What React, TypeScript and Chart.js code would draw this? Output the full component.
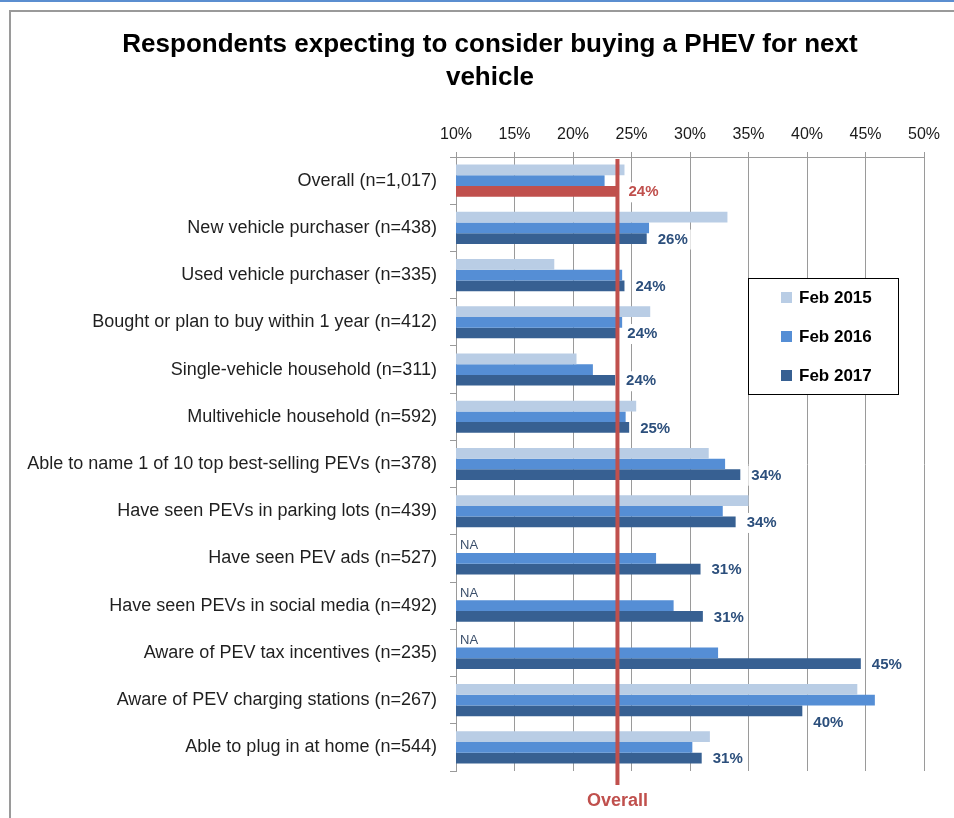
import React, { useEffect, useRef } from "react";
import { Chart, registerables } from "chart.js";

Chart.register(...registerables);

const titleLines = ["Respondents expecting to consider buying a PHEV for next", "vehicle"];

const categories = [
  "Overall (n=1,017)",
  "New vehicle purchaser (n=438)",
  "Used vehicle purchaser (n=335)",
  "Bought or plan to buy within 1 year (n=412)",
  "Single-vehicle household (n=311)",
  "Multivehicle household (n=592)",
  "Able to name 1 of 10 top best-selling PEVs (n=378)",
  "Have seen PEVs in parking lots (n=439)",
  "Have seen PEV ads (n=527)",
  "Have seen PEVs in social media (n=492)",
  "Aware of PEV tax incentives (n=235)",
  "Aware of PEV charging stations (n=267)",
  "Able to plug in at home (n=544)",
];

const seriesNames = ["Feb 2015", "Feb 2016", "Feb 2017"];

const feb2015: (number | null)[] = [24.4, 33.2, 18.4, 26.6, 20.3, 25.4, 31.6, 35.0, null, null, null, 44.3, 31.7];
const feb2016: number[] = [22.7, 26.5, 24.2, 24.2, 21.7, 24.5, 33.0, 32.8, 27.1, 28.6, 32.4, 45.8, 30.2];
const feb2017: number[] = [23.8, 26.3, 24.4, 23.7, 23.6, 24.8, 34.3, 33.9, 30.9, 31.1, 44.6, 39.6, 31.0];

const xMin = 10;
const xMax = 50;
const xStep = 5;

const overallLabel = "Overall";
const overallValue = feb2017[0];
const naText = "NA";

const FONT = '"Liberation Sans", Arial, sans-serif';
const C2015 = "#b9cde5";
const C2016 = "#558ed5";
const C2017 = "#376092";
const RED = "#c0504d";
const LABEL_BLUE = "#2c4f7c";
const GRID = "#9a9a9a";
const LABEL_FONT = `bold 15px ${FONT}`;

function labelBoxes(chart: any) {
  const ctx = chart.ctx as CanvasRenderingContext2D;
  const meta1 = chart.getDatasetMeta(1);
  const meta2 = chart.getDatasetMeta(2);
  ctx.save();
  ctx.font = LABEL_FONT;
  const out: { x: number; y: number; w: number; txt: string; i: number }[] = [];
  meta2.data.forEach((bar: any, i: number) => {
    const v = feb2017[i];
    if (v == null) return;
    const txt = Math.round(v) + "%";
    const x = bar.x + 11;
    let y = bar.y + 1;
    const w = ctx.measureText(txt).width;
    const above = meta1.data[i] as any;
    // if the bar above reaches past the label, move the label below the bar
    if (above && above.x > x - 4) y = bar.y + bar.height + 1;
    out.push({ x, y, w, txt, i });
  });
  ctx.restore();
  return out;
}

const overlayPlugin = {
  id: "overlay",
  beforeDatasetsDraw(chart: any) {
    const ctx = chart.ctx as CanvasRenderingContext2D;
    ctx.save();
    ctx.fillStyle = "#ffffff";
    labelBoxes(chart).forEach((b) => {
      ctx.fillRect(b.x - 3, b.y - 10, b.w + 6, 20);
    });
    ctx.restore();
  },
  afterDatasetsDraw(chart: any) {
    const ctx = chart.ctx as CanvasRenderingContext2D;
    const area = chart.chartArea;
    const xs = chart.scales.x;
    ctx.save();

    // Title
    ctx.font = `bold 26px ${FONT}`;
    ctx.fillStyle = "#000000";
    ctx.textAlign = "center";
    ctx.textBaseline = "middle";
    titleLines.forEach((t, k) => ctx.fillText(t, 490, 45 + k * 33));

    // Overall reference line
    const lx = xs.getPixelForValue(overallValue);
    ctx.strokeStyle = RED;
    ctx.lineWidth = 4;
    ctx.beginPath();
    ctx.moveTo(lx, area.top + 2);
    ctx.lineTo(lx, area.bottom + 14);
    ctx.stroke();
    ctx.font = `bold 18px ${FONT}`;
    ctx.fillStyle = RED;
    ctx.fillText(overallLabel, lx, area.bottom + 30);

    // Data labels for Feb 2017
    ctx.font = LABEL_FONT;
    ctx.textAlign = "left";
    labelBoxes(chart).forEach((b) => {
      ctx.fillStyle = b.i === 0 ? RED : LABEL_BLUE;
      ctx.fillText(b.txt, b.x, b.y);
    });

    // NA labels for missing Feb 2015
    const meta1 = chart.getDatasetMeta(1);
    ctx.font = `13px ${FONT}`;
    ctx.fillStyle = "#3b4f6b";
    feb2015.forEach((v, i) => {
      if (v != null) return;
      const b = meta1.data[i] as any;
      const y = b.y - b.height - 2;
      ctx.fillText(naText, area.left + 4, y);
    });

    // Legend
    const lxBox = 748;
    const lyBox = 278;
    const lw = 150;
    const lh = 116;
    ctx.fillStyle = "#ffffff";
    ctx.fillRect(lxBox, lyBox, lw, lh);
    ctx.strokeStyle = "#000000";
    ctx.lineWidth = 1;
    ctx.strokeRect(lxBox + 0.5, lyBox + 0.5, lw, lh);
    ctx.font = `bold 17px ${FONT}`;
    const colors = [C2015, C2016, C2017];
    seriesNames.forEach((name, k) => {
      const cy = lyBox + 19 + k * 39;
      ctx.fillStyle = colors[k];
      ctx.fillRect(lxBox + 33, cy - 5, 11, 11);
      ctx.fillStyle = "#000000";
      ctx.textBaseline = "middle";
      ctx.fillText(name, lxBox + 51, cy + 1);
    });

    ctx.restore();
  },
};

export default function App() {
  const ref = useRef<HTMLCanvasElement>(null);

  useEffect(() => {
    if (!ref.current) return;
    const chart = new Chart(ref.current, {
      type: "bar",
      data: {
        labels: categories,
        datasets: [
          { label: seriesNames[0], data: feb2015 as any, backgroundColor: C2015 },
          { label: seriesNames[1], data: feb2016, backgroundColor: C2016 },
          {
            label: seriesNames[2],
            data: feb2017,
            backgroundColor: feb2017.map((_, i) => (i === 0 ? RED : C2017)),
          },
        ],
      },
      options: {
        indexAxis: "y",
        responsive: false,
        animation: false,
        datasets: { bar: { barPercentage: 1, categoryPercentage: 0.68 } },
        layout: { padding: { left: 10, right: 30, top: 104, bottom: 47 } },
        plugins: {
          legend: { display: false },
          tooltip: { enabled: false },
          title: { display: false },
        },
        scales: {
          x: {
            position: "top",
            min: xMin,
            max: xMax,
            ticks: {
              stepSize: xStep,
              callback: (v: any) => v + "%",
              color: "#1a1a1a",
              font: { family: FONT, size: 16 },
              padding: 8,
            },
            grid: { color: GRID, tickLength: 5, lineWidth: 1 },
            border: { color: GRID },
            afterFit: (s: any) => {
              s.height = 53;
            },
          },
          y: {
            ticks: {
              color: "#1f1f1f",
              font: { family: FONT, size: 18 },
              padding: 13,
              autoSkip: false,
            },
            grid: { drawOnChartArea: false, color: GRID, tickLength: 6, offset: true },
            border: { color: GRID },
            afterFit: (s: any) => {
              s.width = 446;
            },
          },
        },
      },
      plugins: [overlayPlugin],
    });
    return () => chart.destroy();
  }, []);

  return (
    <div style={{ position: "absolute", left: 0, top: 0, width: 954, height: 818, background: "#ffffff", overflow: "hidden" }}>
      <div style={{ position: "absolute", left: 0, top: 0, width: 954, height: 2, background: "#5b8ed0" }} />
      <div
        style={{
          position: "absolute",
          left: 9,
          top: 10,
          width: 960,
          height: 830,
          borderLeft: "2px solid #9a9a9a",
          borderTop: "2px solid #9a9a9a",
        }}
      />
      <canvas ref={ref} width={954} height={818} style={{ position: "absolute", left: 0, top: 0, width: 954, height: 818 }} />
    </div>
  );
}
